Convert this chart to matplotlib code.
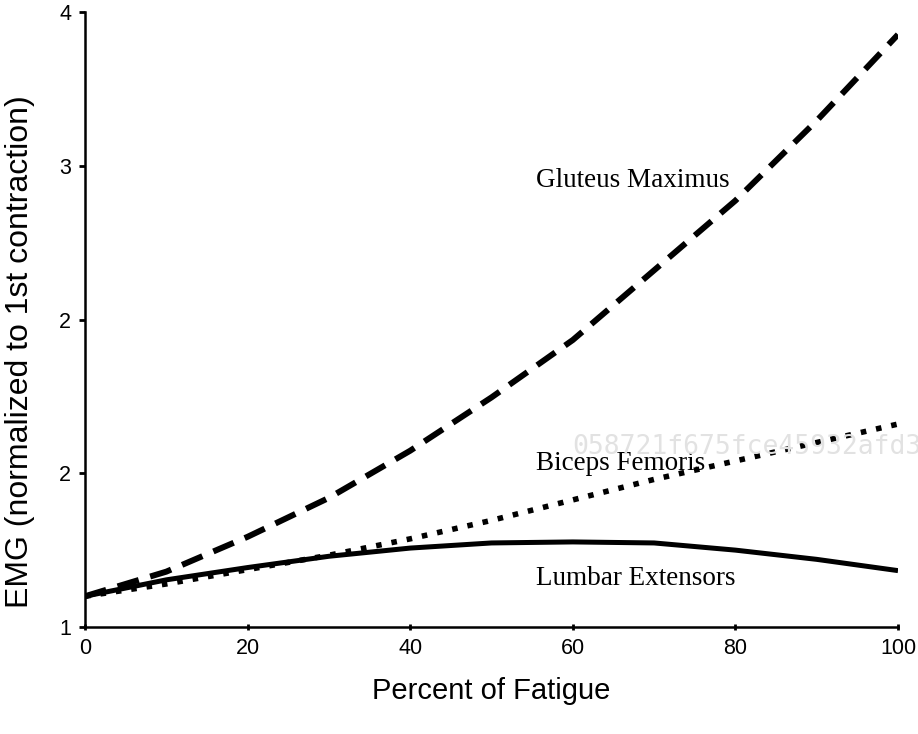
import matplotlib.pyplot as plt

## values, every 10 % of fatigue
fatigue = [0, 10, 20, 30, 40, 50, 60, 70, 80, 90, 100]
gluteus = [1.15, 1.27, 1.44, 1.63, 1.86, 2.12, 2.40, 2.74, 3.08, 3.47, 3.89]
biceps = [1.15, 1.21, 1.28, 1.35, 1.43, 1.52, 1.62, 1.72, 1.81, 1.90, 1.99]
lumbar = [1.15, 1.23, 1.29, 1.345, 1.385, 1.41, 1.415, 1.41, 1.375, 1.33, 1.275]

yticks = [1, 1.75, 2.5, 3.25, 4]
ytlabels = ["1", "2", "2", "3", "4"]
xticks = [0, 20, 40, 60, 80, 100]

plt.rcParams["font.family"] = ["Liberation Sans", "DejaVu Sans"]

fig = plt.figure(figsize=(9.18, 7.34), dpi=100)
ax = fig.add_axes([85/918, 107/734, 813/918, 615/734])

ax.plot(fatigue, gluteus, color="black", lw=4.3, linestyle=(0, (3.7, 2.0)))
ax.plot(fatigue, biceps, color="black", lw=4.0, linestyle=(0, (1.0, 1.8)))
ax.plot(fatigue, lumbar, color="black", lw=3.6, solid_capstyle="butt")

ax.set_xlim(0, 100)
ax.set_ylim(1, 4)
ax.set_xticks(xticks)
ax.set_yticks(yticks)
ax.set_yticklabels(ytlabels)
ax.tick_params(axis="both", width=2, length=4, color="black", labelsize=15.5)
ax.tick_params(axis="x", direction="inout", pad=6)
ax.tick_params(axis="y", pad=6)
for s in ["top", "right"]:
    ax.spines[s].set_visible(False)
for s in ["left", "bottom"]:
    ax.spines[s].set_linewidth(1.8)

ax.set_xlabel("Percent of Fatigue", fontsize=21)
ax.xaxis.set_label_coords(0.5, -0.082)
ax.set_ylabel("EMG (normalized to 1st contraction)", fontsize=23)
ax.yaxis.set_label_coords(-0.062, 0.447)

serif = ["Liberation Serif", "DejaVu Serif"]
ax.text(55.5, 3.18, "Gluteus Maximus", family=serif, fontsize=19.5, va="center")
ax.text(55.5, 1.80, "Biceps Femoris", family=serif, fontsize=19.5, va="center")
ax.text(55.5, 1.235, "Lumbar Extensors", family=serif, fontsize=19.5, va="center")

## faint watermark on the scan (runs off the right edge, as in the original)
fig.text(572/918, 1 - 447/734, "058721f675fce45932afd3", family="DejaVu Sans Mono",
         fontsize=19, color="#e2e2e2", va="center", zorder=0)

fig.savefig("out.png", dpi=100)
